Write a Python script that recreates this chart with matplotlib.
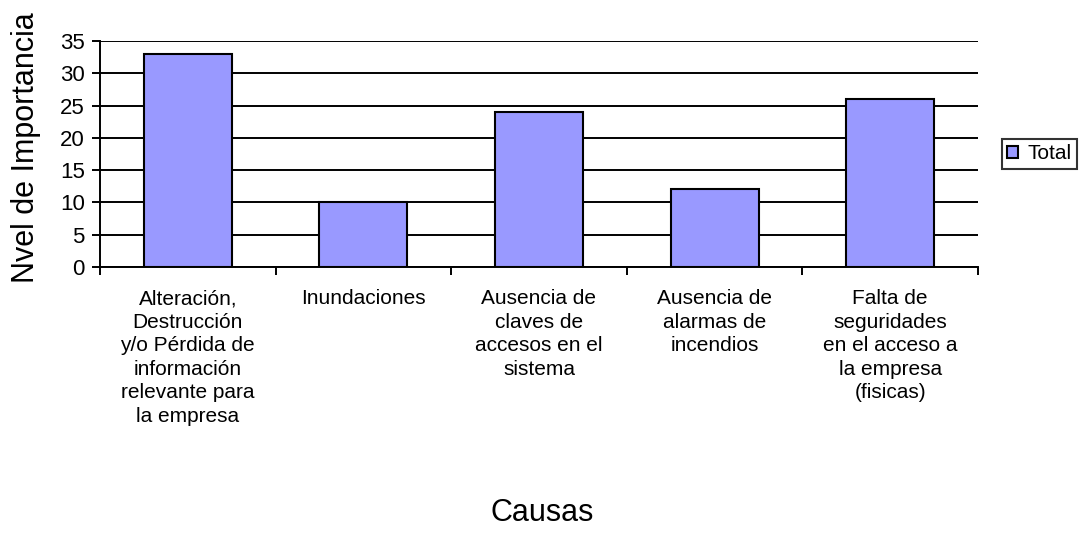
import matplotlib.pyplot as plt
import numpy as np

plt.rcParams['font.family'] = ['Liberation Sans', 'DejaVu Sans']

causas = ['Alteración,\nDestrucción\ny/o Pérdida de\ninformación\nrelevante para\nla empresa',
          'Inundaciones',
          'Ausencia de\nclaves de\naccesos en el\nsistema',
          'Ausencia de\nalarmas de\nincendios',
          'Falta de\nseguridades\nen el acceso a\nla empresa\n(fisicas)']
total = [33, 10, 24, 12, 26]

fig = plt.figure(figsize=(10.86, 5.36), dpi=100)
ax = fig.add_axes([0.092, 0.502, 0.8086, 0.4215])

x = np.arange(len(causas))
ax.bar(x, total, width=0.5, color='#9999ff', edgecolor='black', linewidth=1.5,
       label='Total', zorder=3)

ax.set_xlim(-0.5, len(causas) - 0.5)
ax.set_ylim(0, 35)
ax.set_yticks(range(0, 36, 5))
ax.yaxis.grid(True, color='black', linewidth=1.4, zorder=0)

# ticks between categories, labels centred under the bars
ax.set_xticks(np.arange(-0.5, len(causas), 1))
ax.set_xticklabels([])
ax.set_xticks(x, minor=True)
ax.set_xticklabels(causas, minor=True, fontsize=15, linespacing=1.3, va='top')
ax.tick_params(axis='x', which='minor', length=0, pad=16)
ax.tick_params(axis='x', which='major', length=6, width=1.4, direction='out')
ax.tick_params(axis='y', length=6, width=1.4, direction='out', labelsize=16, pad=5)

for s in ['top', 'right']:
    ax.spines[s].set_visible(False)
ax.spines['left'].set_linewidth(1.4)
ax.spines['bottom'].set_linewidth(1.4)

fig.text(0.024, 0.725, 'Nvel de Importancia', fontsize=22, rotation=90,
         ha='center', va='center')
fig.text(0.499, 0.043, 'Causas', fontsize=22, ha='center', va='center')

leg = ax.legend(loc='center left', bbox_to_anchor=(1.027, 0.5), fontsize=15,
                frameon=True, fancybox=False, edgecolor='black',
                handlelength=0.55, handleheight=0.55, handletextpad=0.45,
                borderpad=0.25, borderaxespad=0.0)
leg.get_frame().set_linewidth(1.5)
for h in leg.legend_handles:
    h.set_linewidth(1.5)

fig.savefig('out.png', dpi=100)
